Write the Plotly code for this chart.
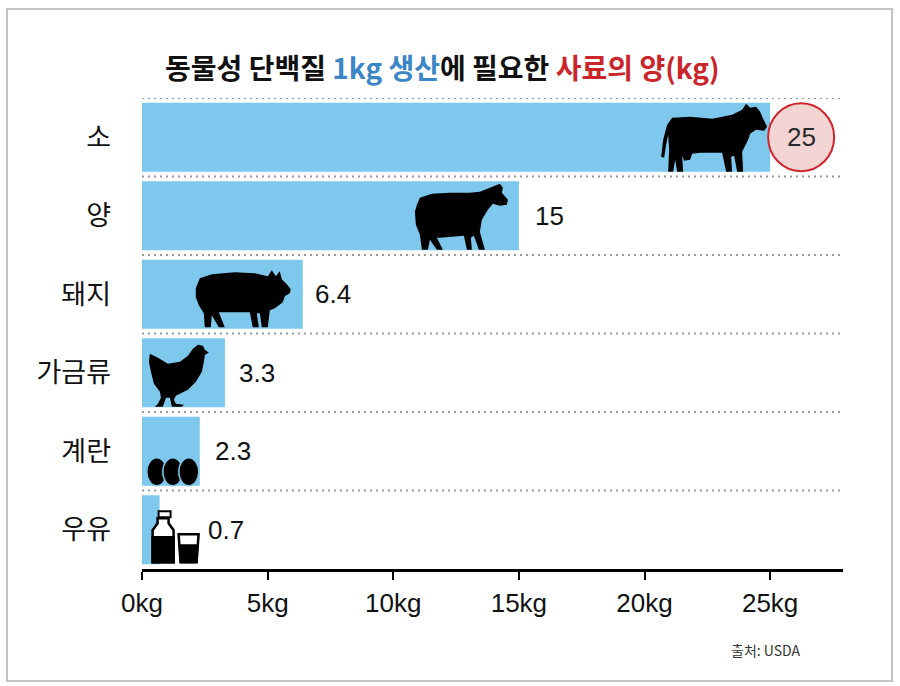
import plotly.graph_objects as go

# ---------------- data ----------------
categories = ["소", "양", "돼지", "가금류", "계란", "우유"]
feed_kg = [25, 15, 6.4, 3.3, 2.3, 0.7]
value_labels = ["25", "15", "6.4", "3.3", "2.3", "0.7"]
tick_values = [0, 5, 10, 15, 20, 25]
tick_labels = ["0kg", "5kg", "10kg", "15kg", "20kg", "25kg"]
source_text = "출처: USDA"

# ---------------- layout constants ----------------
W, H = 900, 686
L, R, T, B = 142, 57, 98, 117
PW, PH = W - L - R, H - T - B
X_MAX = 27.9
BAR_COLOR = "#7DC8EC"
NUM_FONT = "Liberation Sans, Arial, sans-serif"
KR_FONT = "Noto Sans CJK KR, sans-serif"


def px2paper(px, py):
    return (px - L) / PW, (H - B - py) / PH


fig = go.Figure()
fig.add_trace(go.Bar(
    x=feed_kg, y=categories, orientation="h",
    marker=dict(color=BAR_COLOR, line=dict(width=0)),
    hoverinfo="skip", showlegend=False,
))

shapes = []
annotations = []

# dotted separators
for i in range(len(categories)):
    shapes.append(dict(type="line", xref="paper", yref="y", x0=0, x1=1,
                       y0=i - 0.5, y1=i - 0.5,
                       line=dict(color="#9a9a9a", width=2, dash="2px,4px"),
                       layer="below"))

# value labels
label_shift = [0, 14, 10, 12, 13, 46]
for i, (v, t) in enumerate(zip(feed_kg, value_labels)):
    if i == 0:
        shapes.append(dict(type="circle", xref="x", yref="y",
                           xsizemode="pixel", ysizemode="pixel",
                           xanchor=v, yanchor=i, x0=-2, x1=64, y0=-34, y1=34,
                           fillcolor="#F2D4D3", line=dict(color="#D0242C", width=2)))
        annotations.append(dict(x=v, y=i, xref="x", yref="y", text=t,
                                showarrow=False, xanchor="center", xshift=31,
                                font=dict(family=NUM_FONT, size=26, color="#2a2a2a")))
    else:
        annotations.append(dict(x=v, y=i, xref="x", yref="y", text=t,
                                showarrow=False, xanchor="left", xshift=label_shift[i],
                                font=dict(family=NUM_FONT, size=26, color="#111111")))


# ---------------- icons (local pixel silhouettes) ----------------
def poly_path(points, ox, oy):
    pts = [(x - ox, -(y - oy)) for x, y in points]
    return "M " + " L ".join(f"{x:.1f},{y:.1f}" for x, y in pts) + " Z"


def icon(points, xa, ya, ox, oy, fill="black", line=None):
    shapes.append(dict(type="path", xref="x", yref="y",
                       xsizemode="pixel", ysizemode="pixel",
                       xanchor=xa, yanchor=ya,
                       path=poly_path(points, ox, oy),
                       fillcolor=fill,
                       line=line or dict(width=0)))


cow = [(672, 118), (690, 117), (712, 119), (732, 115), (742, 110), (746, 104), (750, 108),
       (756, 107), (760, 112), (763, 119), (767, 127), (764, 131), (756, 130), (750, 134),
       (748, 140), (745, 146), (742, 152), (743, 172), (737, 172), (734, 156), (731, 157),
       (732, 172), (726, 172), (722, 153), (700, 153), (692, 154), (690, 160), (684, 161),
       (682, 156), (683, 172), (677, 172), (675, 160), (673, 172), (668, 172), (669, 150),
       (668, 135), (666, 145), (664, 158), (661, 157), (663, 140), (667, 125)]
sheep = [(417, 205), (420, 198), (432, 194), (450, 193), (470, 193), (480, 192), (490, 188),
         (495, 186), (500, 184), (503, 188), (502, 193), (508, 200), (507, 205), (500, 206),
         (493, 204), (488, 210), (482, 220), (480, 232), (485, 250), (479, 250), (474, 236),
         (471, 238), (472, 250), (467, 250), (464, 236), (440, 238), (437, 238), (443, 250),
         (437, 250), (430, 240), (428, 250), (422, 250), (420, 235), (416, 225), (415, 212)]
pig = [(196, 288), (200, 278), (212, 274), (235, 272), (255, 273), (268, 276), (272, 270),
       (276, 276), (280, 271), (282, 279), (287, 284), (291, 289), (290, 293), (285, 296),
       (283, 302), (275, 308), (270, 310), (268, 327), (262, 327), (260, 313), (257, 313),
       (259, 327), (253, 327), (250, 312), (222, 312), (219, 312), (225, 327), (219, 327),
       (212, 315), (211, 327), (205, 327), (204, 313), (199, 305), (196, 297)]
chicken = [(150, 354), (158, 358), (168, 364), (180, 362), (188, 356), (193, 349), (198, 345),
           (203, 346), (205, 350), (209, 353), (205, 355), (204, 362), (202, 372), (196, 382),
           (188, 390), (180, 394), (176, 396), (174, 400), (176, 404), (184, 405), (182, 407),
           (172, 407), (170, 398), (166, 398), (163, 407), (155, 407), (158, 404), (161, 398),
           (160, 392), (154, 384), (151, 372), (149, 362)]

row_cy = [137.5, 216, 294, 373, 451.5, 530.5]
bar_end_px = [770, 519, 303, 225, 200, 160]

icon(cow, feed_kg[0], 0, bar_end_px[0], row_cy[0])
icon(sheep, feed_kg[1], 1, bar_end_px[1], row_cy[1])
icon(pig, feed_kg[2], 2, bar_end_px[2], row_cy[2])
icon(chicken, feed_kg[3], 3, bar_end_px[3], row_cy[3])

# eggs
for cx in (157, 173, 189):
    shapes.append(dict(type="circle", xref="x", yref="y",
                       xsizemode="pixel", ysizemode="pixel",
                       xanchor=feed_kg[4], yanchor=4,
                       x0=cx - 10 - bar_end_px[4], x1=cx + 10 - bar_end_px[4],
                       y0=-(458 - row_cy[4]), y1=-(486 - row_cy[4]),
                       fillcolor="black", line=dict(color=BAR_COLOR, width=1.5)))

# milk bottle and glass
ox, oy = bar_end_px[5], row_cy[5]
bottle = [(161, 519), (169, 519), (169, 524), (174, 531), (174, 563), (153, 563),
          (153, 531), (158, 524), (158, 519)]
bottle_milk = [(153, 538), (174, 538), (174, 563), (153, 563)]
cap = [(159, 512), (171, 512), (171, 518), (159, 518)]
glass = [(179, 535), (199, 535), (197, 563), (181, 563)]
glass_milk = [(180, 546), (198, 546), (197, 563), (181, 563)]
icon(bottle, feed_kg[5], 5, ox, oy, fill="white", line=dict(color="black", width=2.5))
icon(bottle_milk, feed_kg[5], 5, ox, oy, fill="black", line=dict(color="black", width=2.5))
icon(cap, feed_kg[5], 5, ox, oy, fill="white", line=dict(color="black", width=2))
icon(glass, feed_kg[5], 5, ox, oy, fill="white", line=dict(color="black", width=2.5))
icon(glass_milk, feed_kg[5], 5, ox, oy, fill="black", line=dict(color="black", width=2))

# ---------------- title / source / frame ----------------
tx, ty = px2paper(442, 67)
annotations.append(dict(
    xref="paper", yref="paper", x=tx, y=ty, xanchor="center", yanchor="middle",
    showarrow=False,
    text=("<b>동물성 단백질 <span style='color:#3C85C6'>1kg 생산</span>에 필요한 "
          "<span style='color:#C9252B'>사료의 양(kg)</span></b>"),
    font=dict(family=KR_FONT, size=28, color="#111111")))

sx, sy = px2paper(803, 650)
annotations.append(dict(xref="paper", yref="paper", x=sx, y=sy, xanchor="right",
                        yanchor="middle", showarrow=False, text=source_text,
                        font=dict(family=KR_FONT, size=14, color="#333333")))

fx0, fy0 = px2paper(7, 681)
fx1, fy1 = px2paper(892, 9)
shapes.append(dict(type="rect", xref="paper", yref="paper", x0=fx0, y0=fy0, x1=fx1, y1=fy1,
                   line=dict(color="#c4c4c4", width=2), fillcolor="rgba(0,0,0,0)",
                   layer="below"))

fig.update_layout(
    width=W, height=H, autosize=False,
    margin=dict(l=L, r=R, t=T, b=B, pad=0),
    paper_bgcolor="white", plot_bgcolor="white",
    bargap=0.12,
    shapes=shapes, annotations=annotations,
    xaxis=dict(range=[0, X_MAX], tickvals=tick_values, ticktext=tick_labels,
               showgrid=False, zeroline=False, showline=True, linecolor="black",
               linewidth=2.5, ticks="outside", ticklen=8, tickwidth=2,
               tickcolor="black", ticklabelstandoff=1,
               tickfont=dict(family=NUM_FONT, size=26, color="#111111"),
               fixedrange=True),
    yaxis=dict(range=[len(categories) - 0.5, -0.5], showgrid=False, zeroline=False,
               showline=False, ticks="", ticklabelstandoff=30,
               tickfont=dict(family=KR_FONT, size=27, color="#111111"),
               fixedrange=True),
)

fig.write_html("out.html", config={"displayModeBar": False},
               post_script="document.body.style.margin='0px';")
